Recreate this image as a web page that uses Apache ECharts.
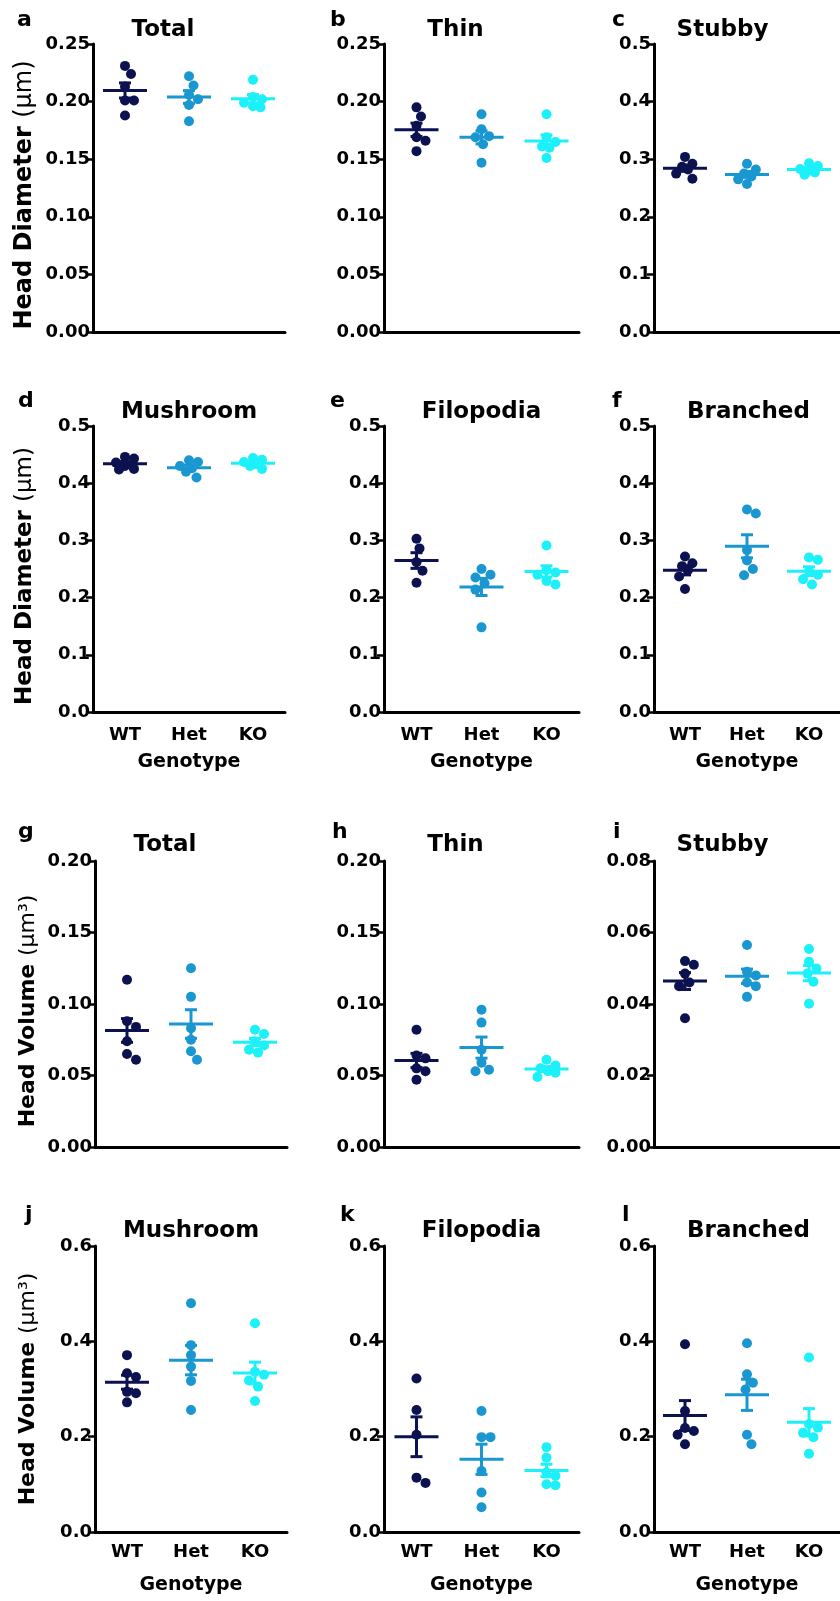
<!DOCTYPE html>
<html>
<head>
<meta charset="utf-8">
<title>Spine head diameter and volume</title>
<script src="https://cdn.jsdelivr.net/npm/echarts@6/dist/echarts.min.js"></script>
<style>
  html, body { margin: 0; padding: 0; background: #fff; }
  #chart { width: 840px; height: 1601px; }
</style>
</head>
<body>
<div id="chart"></div>
<script>
// ---- data ----
const genotypes = ['WT', 'Het', 'KO'];
const panelTitles = ['Total', 'Thin', 'Stubby', 'Mushroom', 'Filopodia', 'Branched',
                     'Total', 'Thin', 'Stubby', 'Mushroom', 'Filopodia', 'Branched'];
const panelLetters = ['a', 'b', 'c', 'd', 'e', 'f', 'g', 'h', 'i', 'j', 'k', 'l'];

// head diameter (µm), one list per genotype: WT, Het, KO
const diamTotal = [[0.231, 0.224, 0.213, 0.201, 0.201, 0.188], [0.222, 0.214, 0.206, 0.202, 0.197, 0.183], [0.219, 0.204, 0.202, 0.199, 0.196, 0.195]];
const diamThin = [[0.195, 0.187, 0.179, 0.169, 0.166, 0.157], [0.189, 0.176, 0.170, 0.169, 0.163, 0.147], [0.189, 0.169, 0.165, 0.161, 0.160, 0.151]];
const diamStubby = [[0.304, 0.292, 0.287, 0.282, 0.275, 0.266], [0.292, 0.282, 0.275, 0.270, 0.265, 0.257], [0.293, 0.288, 0.283, 0.280, 0.277, 0.273]];
const diamMushroom = [[0.446, 0.443, 0.436, 0.430, 0.425, 0.424], [0.440, 0.437, 0.430, 0.426, 0.420, 0.410], [0.444, 0.441, 0.437, 0.433, 0.430, 0.425]];
const diamFilopodia = [[0.303, 0.286, 0.262, 0.247, 0.226], [0.250, 0.240, 0.235, 0.225, 0.214, 0.148], [0.291, 0.248, 0.244, 0.240, 0.229, 0.223]];
const diamBranched = [[0.272, 0.260, 0.255, 0.248, 0.237, 0.215], [0.354, 0.347, 0.283, 0.265, 0.250, 0.239], [0.270, 0.266, 0.246, 0.240, 0.232, 0.223]];

// head volume (µm³)
const volTotal = [[0.117, 0.088, 0.084, 0.074, 0.065, 0.061], [0.125, 0.105, 0.083, 0.075, 0.067, 0.061], [0.082, 0.079, 0.074, 0.071, 0.068, 0.066]];
const volThin = [[0.082, 0.064, 0.062, 0.055, 0.053, 0.047], [0.096, 0.087, 0.068, 0.059, 0.054, 0.053], [0.061, 0.057, 0.055, 0.053, 0.052, 0.049]];
const volStubby = [[0.052, 0.051, 0.0485, 0.046, 0.045, 0.036], [0.0565, 0.049, 0.048, 0.046, 0.045, 0.042], [0.0554, 0.0518, 0.0499, 0.0485, 0.0462, 0.0401]];
const volMushroom = [[0.371, 0.333, 0.325, 0.294, 0.291, 0.272], [0.480, 0.392, 0.371, 0.347, 0.317, 0.256], [0.438, 0.336, 0.330, 0.318, 0.305, 0.275]];
const volFilopodia = [[0.322, 0.256, 0.204, 0.114, 0.103], [0.254, 0.199, 0.199, 0.128, 0.083, 0.052], [0.178, 0.156, 0.125, 0.118, 0.100, 0.098]];
const volBranched = [[0.394, 0.254, 0.218, 0.212, 0.204, 0.184], [0.396, 0.331, 0.313, 0.299, 0.204, 0.184], [0.366, 0.226, 0.219, 0.208, 0.199, 0.164]];

const panelValues = [diamTotal, diamThin, diamStubby, diamMushroom, diamFilopodia, diamBranched,
                     volTotal, volThin, volStubby, volMushroom, volFilopodia, volBranched];

// y axis ranges / tick labels
const yMax = [0.25, 0.25, 0.5, 0.5, 0.5, 0.5, 0.20, 0.20, 0.08, 0.6, 0.6, 0.6];
const yStep = [0.05, 0.05, 0.1, 0.1, 0.1, 0.1, 0.05, 0.05, 0.02, 0.2, 0.2, 0.2];
const yDecimals = [2, 2, 1, 1, 1, 1, 2, 2, 2, 1, 1, 1];
const yNames = ['Head Diameter {r|(μm)}', 'Head Diameter {r|(μm)}', 'Head Volume {r|(μm³)}', 'Head Volume {r|(μm³)}'];

// ---- layout / style ----
const groupColors = ['#0c1150', '#1a97d0', '#1cf0f8'];
const FONT = 'DejaVu Sans';
const rowTop = [44, 426, 861, 1246];
const plotH = [288, 286, 286, 286];
const colLeft = [[93, 384, 654], [93, 384, 654], [95, 384, 654], [95, 384, 654]];
const colW = [192, 195, 189];
const titleY = [30, 412, 845, 1231];
const titleShift = [-26, 0, -26, 0];
const letterX = [[17, 330, 612], [18, 330, 612], [18, 332, 613], [25, 340, 622]];
const letterY = [20, 401, 832, 1215];
const yNameSize = [24, 23, 22, 22];
const yNamePad = [[0, 14, 0, 0], [0, 14, 0, 0], [0, 14, 0, 0], [0, 0, 0, 0]];
const catMargin = [11, 14, 11, 11];
const catNameGap = [38, 41, 38, 44];
const dot = 10;
const spacing = 10;
const maxShift = 10;

function mean(a) {
  return a.reduce((s, v) => s + v, 0) / a.length;
}
function sem(a) {
  const m = mean(a);
  const ss = a.reduce((s, v) => s + (v - m) * (v - m), 0);
  return Math.sqrt(ss / (a.length - 1)) / Math.sqrt(a.length);
}

// simple beeswarm: push points sideways (px), within a limited width
function swarmOffsets(vals, pxPerUnit) {
  const placed = [];
  const out = new Array(vals.length).fill(0);
  const order = vals.map((v, i) => i).sort((a, b) => vals[b] - vals[a]);
  order.forEach(i => {
    const y = vals[i] * pxPerUnit;
    let best = 0;
    let bestDist = -1;
    for (let k = 0; ; k++) {
      const off = (k % 2 ? 1 : -1) * Math.ceil(k / 2) * 1.5;
      if (Math.abs(off) > maxShift) break;
      const dmin = placed.reduce((m, p) => Math.min(m, Math.hypot(p[0] - off, p[1] - y)), Infinity);
      if (dmin >= spacing) { best = off; break; }
      if (dmin > bestDist + 0.5) { bestDist = dmin; best = off; }
    }
    placed.push([best, y]);
    out[i] = best;
  });
  return out;
}

function renderMeanSem(params, api) {
  const g = api.value(0);
  const m = api.value(1);
  const s = api.value(2);
  const p = api.coord([g, m]);
  const hi = api.coord([g, m + s]);
  const lo = api.coord([g, m - s]);
  const style = { stroke: groupColors[g - 1], lineWidth: 3 };
  const half = 22;
  const cap = 6;
  return {
    type: 'group',
    children: [
      { type: 'line', shape: { x1: p[0] - half, y1: p[1], x2: p[0] + half, y2: p[1] }, style: style },
      { type: 'line', shape: { x1: p[0], y1: hi[1], x2: p[0], y2: lo[1] }, style: style },
      { type: 'line', shape: { x1: p[0] - cap, y1: hi[1], x2: p[0] + cap, y2: hi[1] }, style: style },
      { type: 'line', shape: { x1: p[0] - cap, y1: lo[1], x2: p[0] + cap, y2: lo[1] }, style: style }
    ]
  };
}

const grid = [];
const xAxis = [];
const yAxis = [];
const series = [];
const graphic = [];

panelValues.forEach((groups, i) => {
  const row = Math.floor(i / 3);
  const col = i % 3;
  const left = colLeft[row][col];
  const top = rowTop[row];
  const w = colW[col];
  const h = plotH[row];
  const showCats = row === 1 || row === 3;

  grid.push({ left: left, top: top, width: w, height: h });

  xAxis.push({
    type: 'category',
    gridIndex: i,
    data: genotypes,
    boundaryGap: true,
    axisLine: { lineStyle: { color: '#000', width: 3 } },
    axisTick: { show: false },
    axisLabel: { show: showCats, margin: catMargin[row], color: '#000', fontFamily: FONT, fontWeight: 'bold', fontSize: 18 },
    name: showCats ? 'Genotype' : '',
    nameLocation: 'middle',
    nameGap: catNameGap[row],
    nameTextStyle: { color: '#000', fontFamily: FONT, fontWeight: 'bold', fontSize: 19 },
    splitLine: { show: false }
  });
  xAxis.push({ type: 'value', gridIndex: i, min: 0.5, max: 3.5, show: false, splitLine: { show: false } });

  yAxis.push({
    type: 'value',
    gridIndex: i,
    min: 0,
    max: yMax[i],
    interval: yStep[i],
    axisLine: { show: true, lineStyle: { color: '#000', width: 3 } },
    axisTick: { show: true, length: 7, lineStyle: { color: '#000', width: 2.5 } },
    axisLabel: {
      margin: 3, color: '#000', fontFamily: FONT, fontWeight: 'bold', fontSize: 18,
      formatter: v => v.toFixed(yDecimals[i])
    },
    splitLine: { show: false },
    name: col === 0 ? yNames[row] : '',
    nameLocation: 'middle',
    nameGap: 56,
    nameTextStyle: {
      color: '#000', fontFamily: FONT, fontWeight: 'bold', fontSize: yNameSize[row],
      padding: yNamePad[row],
      rich: { r: { color: '#000', fontFamily: FONT, fontWeight: 'normal', fontSize: yNameSize[row] } }
    }
  });

  const pxY = h / yMax[i];
  const pxX = w / 3;
  groups.forEach((vals, g) => {
    const offs = swarmOffsets(vals, pxY);
    series.push({
      type: 'scatter',
      xAxisIndex: 2 * i + 1,
      yAxisIndex: i,
      symbol: 'circle',
      symbolSize: dot,
      itemStyle: { color: groupColors[g], opacity: 1 },
      z: 2,
      data: vals.map((v, k) => [g + 1 + offs[k] / pxX, v])
    });
  });
  series.push({
    type: 'custom',
    xAxisIndex: 2 * i + 1,
    yAxisIndex: i,
    z: 3,
    renderItem: renderMeanSem,
    data: groups.map((vals, g) => [g + 1, mean(vals), sem(vals)])
  });

  graphic.push({
    type: 'text',
    style: {
      text: panelTitles[i], x: left + w / 2 + titleShift[row], y: titleY[row],
      font: 'bold 23px "DejaVu Sans"', fill: '#000',
      align: 'center', verticalAlign: 'middle', textAlign: 'center', textVerticalAlign: 'middle'
    }
  });
  graphic.push({
    type: 'text',
    style: {
      text: panelLetters[i], x: letterX[row][col], y: letterY[row],
      font: 'bold 22px "DejaVu Sans"', fill: '#000',
      align: 'left', verticalAlign: 'middle', textAlign: 'left', textVerticalAlign: 'middle'
    }
  });
});

const chart = echarts.init(document.getElementById('chart'));
chart.setOption({
  animation: false,
  backgroundColor: '#fff',
  grid: grid,
  xAxis: xAxis,
  yAxis: yAxis,
  series: series,
  graphic: graphic
});
</script>
</body>
</html>
